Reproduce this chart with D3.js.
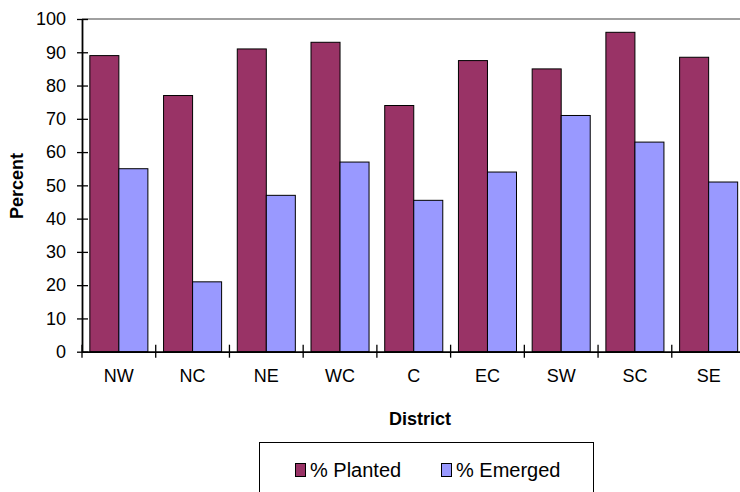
<!DOCTYPE html>
<html>
<head>
<meta charset="utf-8">
<script src="https://cdn.jsdelivr.net/npm/d3@7"></script>
<style>
  html, body { margin: 0; padding: 0; background: #fff; overflow: hidden; }
  svg { display: block; font-family: Arial, "Liberation Sans", sans-serif; }
</style>
</head>
<body>
<svg id="chart" width="740" height="492"></svg>
<script>
// Districts along the x axis
const districts = ["NW", "NC", "NE", "WC", "C", "EC", "SW", "SC", "SE"];
// Series names
const seriesNames = ["% Planted", "% Emerged"];
// Percent planted per district
const planted = [89, 77, 91, 93, 74, 87.5, 85, 96, 88.5];
// Percent emerged per district
const emerged = [55, 21, 47, 57, 45.5, 54, 71, 63, 51];
// Y axis tick values
const yTicks = [0, 10, 20, 30, 40, 50, 60, 70, 80, 90, 100];

const colors = { "% Planted": "#993366", "% Emerged": "#9999FF" };
const seriesValues = { "% Planted": planted, "% Emerged": emerged };

const svg = d3.select("#chart");

const plot = { left: 82, right: 745.5, top: 19, bottom: 351.7 };

const x0 = d3.scaleBand()
  .domain(districts)
  .range([plot.left, plot.right])
  .paddingInner(0)
  .paddingOuter(0);

const x1 = d3.scaleBand()
  .domain(seriesNames)
  .range([0, x0.bandwidth()])
  .paddingInner(0)
  .paddingOuter(0.27);

const y = d3.scaleLinear()
  .domain([0, 100])
  .range([plot.bottom, plot.top]);

// Top border of the plot area
svg.append("line")
  .attr("x1", plot.left).attr("x2", plot.right)
  .attr("y1", y(100)).attr("y2", y(100))
  .attr("stroke", "#808080").attr("stroke-width", 1.5);

// Bars
const groups = svg.append("g")
  .selectAll("g")
  .data(districts)
  .join("g")
  .attr("transform", d => `translate(${x0(d)},0)`);

groups.selectAll("rect")
  .data((d, i) => seriesNames.map(s => ({ s, v: seriesValues[s][i] })))
  .join("rect")
  .attr("x", d => x1(d.s))
  .attr("y", d => y(d.v))
  .attr("width", x1.bandwidth())
  .attr("height", d => y(0) - y(d.v))
  .attr("fill", d => colors[d.s])
  .attr("stroke", "#000")
  .attr("stroke-width", 1);

// Y axis
const yAxis = d3.axisLeft(y)
  .tickValues(yTicks)
  .tickSizeInner(-6)
  .tickSizeOuter(0)
  .tickPadding(16)
  .tickFormat(d3.format("d"));

const gy = svg.append("g")
  .attr("transform", `translate(${plot.left},0)`)
  .call(yAxis);
gy.select(".domain").attr("stroke", "#000").attr("stroke-width", 1.8);
gy.selectAll(".tick line")
  .attr("x1", -5).attr("x2", 6)
  .attr("stroke", "#000").attr("stroke-width", 1.3);
gy.selectAll(".tick text")
  .attr("font-size", 18)
  .attr("font-family", "Arial, 'Liberation Sans', sans-serif")
  .attr("fill", "#000");

// X axis with ticks between categories
const xAxis = d3.axisBottom(x0).tickSize(0).tickSizeOuter(0).tickPadding(18);
const gx = svg.append("g")
  .attr("transform", `translate(0,${plot.bottom})`)
  .call(xAxis);
gx.select(".domain").attr("stroke", "#000").attr("stroke-width", 1.8);
gx.selectAll(".tick text")
  .attr("font-size", 18)
  .attr("font-family", "Arial, 'Liberation Sans', sans-serif")
  .attr("fill", "#000");

// Boundary tick marks crossing the x axis
gx.append("g")
  .selectAll("line")
  .data(districts)
  .join("line")
  .attr("x1", d => x0(d))
  .attr("x2", d => x0(d))
  .attr("y1", -7).attr("y2", 6)
  .attr("stroke", "#000").attr("stroke-width", 1.3);

// Axis titles
svg.append("text")
  .attr("x", 420).attr("y", 425)
  .attr("text-anchor", "middle")
  .attr("font-size", 18).attr("font-weight", "bold")
  .text("District");

svg.append("text")
  .attr("transform", `translate(23,186) rotate(-90)`)
  .attr("text-anchor", "middle")
  .attr("font-size", 18).attr("font-weight", "bold")
  .text("Percent");

// Legend
const legend = svg.append("g");
legend.append("rect")
  .attr("x", 259.5).attr("y", 442.5)
  .attr("width", 334).attr("height", 60)
  .attr("fill", "#fff").attr("stroke", "#000").attr("stroke-width", 1);

const legendPos = [{ sx: 295, tx: 310 }, { sx: 441, tx: 456 }];
seriesNames.forEach((s, i) => {
  legend.append("rect")
    .attr("x", legendPos[i].sx + 0.5).attr("y", 463.5)
    .attr("width", 10).attr("height", 13)
    .attr("fill", colors[s]).attr("stroke", "#000").attr("stroke-width", 1);
  legend.append("text")
    .attr("x", legendPos[i].tx).attr("y", 477)
    .attr("font-size", 20)
    .text(s);
});
</script>
</body>
</html>
